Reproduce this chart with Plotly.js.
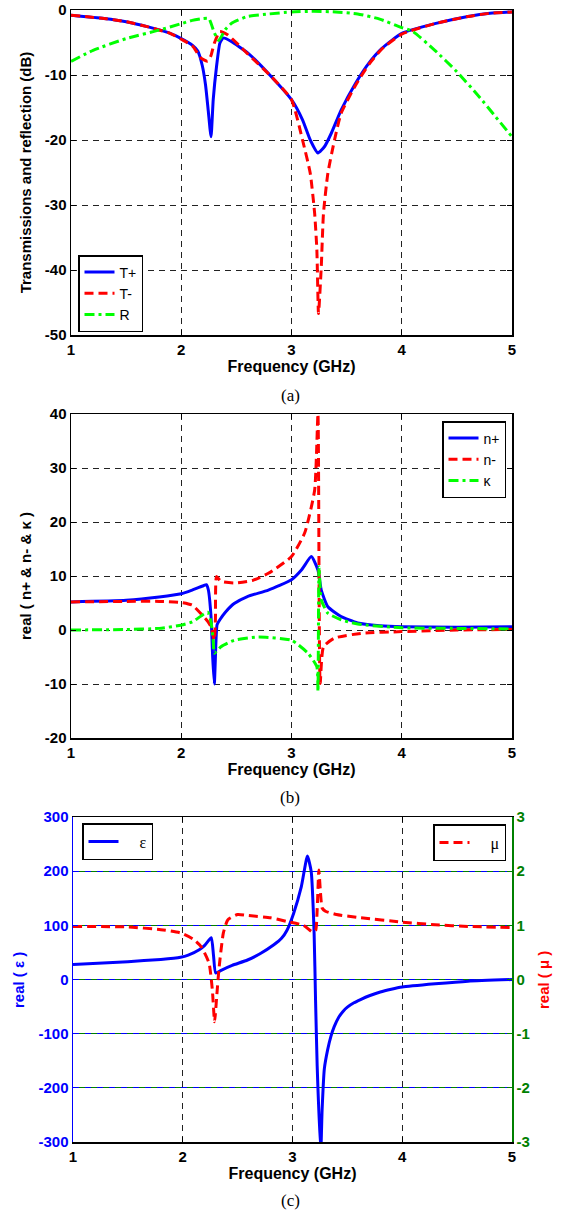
<!DOCTYPE html>
<html>
<head>
<meta charset="utf-8">
<script src="https://cdn.plot.ly/plotly-3.0.1.min.js"></script>
<style>html,body{margin:0;padding:0;background:#fff;}#chart{width:563px;height:1211px;}</style>
</head>
<body>
<div id="chart"></div>
<script>
// ---------- data ----------
const xTicks = [1, 2, 3, 4, 5];
const yTicksA = [0, -10, -20, -30, -40, -50];
const yTicksB = [40, 30, 20, 10, 0, -10, -20];
const yTicksEps = [300, 200, 100, 0, -100, -200, -300];
const yTicksMu = [3, 2, 1, 0, -1, -2, -3];

// (a) transmissions and reflection (dB)
const tPlusF = [1.0,1.3,1.5,1.7,1.9,2.0,2.1,2.15,2.19,2.22,2.245,2.27,2.29,2.32,2.35,2.38,2.45,2.61,2.82,3.0,3.1,3.17,3.24,3.3,3.36,3.45,3.58,3.7,3.82,4.0,4.3,4.6,4.8,5.0];
const tPlusDb = [-0.8,-1.3,-1.8,-2.6,-3.6,-4.4,-5.4,-6.3,-8.5,-11.5,-15.5,-19.5,-13.8,-8.7,-5.1,-4.3,-4.8,-6.7,-10.3,-13.8,-16.9,-20,-22,-21,-19,-15.4,-11.3,-8.2,-5.9,-3.6,-2.1,-1.0,-0.5,-0.3];
const tMinusF = [1.0,1.3,1.5,1.7,1.9,2.0,2.1,2.18,2.24,2.27,2.3,2.35,2.42,2.6,2.82,3.0,3.1,3.17,3.21,3.23,3.245,3.27,3.29,3.33,3.39,3.45,3.58,3.7,3.82,4.0,4.3,4.6,4.8,5.0];
const tMinusDb = [-0.8,-1.3,-1.8,-2.6,-3.6,-4.5,-5.5,-7.4,-7.9,-7.0,-5.1,-3.3,-3.8,-6.7,-10.3,-13.8,-20,-25.1,-31.3,-36.9,-46.7,-39.5,-31.3,-25.1,-20,-15.9,-11.6,-8.4,-6.0,-3.7,-2.1,-1.0,-0.5,-0.3];
const rF = [1.0,1.2,1.5,1.8,2.0,2.1,2.2,2.25,2.3,2.34,2.4,2.46,2.6,2.8,3.0,3.2,3.4,3.6,3.8,4.0,4.1,4.3,4.5,4.7,4.85,5.0];
const rDb = [-7.9,-6.2,-4.4,-3.1,-2.1,-1.6,-1.3,-1.3,-3.5,-4.7,-3.0,-2.0,-1.0,-0.6,-0.3,-0.2,-0.3,-0.6,-1.4,-2.7,-3.3,-6.2,-9.5,-13.3,-16.4,-19.5];

// (b) real(n+), real(n-), kappa
const nPlusF = [1.0,1.5,1.8,2.0,2.1,2.2,2.227,2.245,2.27,2.285,2.30,2.315,2.325,2.35,2.4,2.48,2.6,2.79,3.0,3.09,3.18,3.24,3.27,3.33,3.45,3.6,3.8,4.0,4.5,5.0];
const nPlus = [5.2,5.5,6.1,6.7,7.4,8.2,8.4,7.5,2.5,-5,-10,-2,1.0,1.9,3.3,4.9,6.2,7.4,9.3,11.1,13.6,11.1,7.4,4.3,2.5,1.3,0.8,0.6,0.5,0.6];
const nMinusF = [1.0,1.5,1.8,2.0,2.1,2.18,2.24,2.27,2.30,2.31,2.32,2.36,2.48,2.65,2.79,3.0,3.12,3.21,3.24,3.26,3.29,3.39,3.64,4.0,4.5,5.0];
const nMinus = [5.2,5.3,5.3,5.1,4.6,3.0,1.6,0.6,-1.9,2,9.9,9.0,8.7,9.2,10.5,13.6,18.0,25.9,40,-9.9,-3.1,-1.5,-0.6,-0.3,0.0,0.1];
const kappaF = [1.0,1.5,1.8,2.0,2.1,2.18,2.24,2.27,2.29,2.30,2.36,2.48,2.7,3.0,3.15,3.23,3.24,3.25,3.27,3.33,3.45,3.6,4.0,4.5,5.0];
const kappa = [0.0,0.1,0.3,0.9,1.5,2.6,3.3,1.5,-2.0,-4.3,-3.1,-1.9,-1.3,-1.9,-4.3,-6.8,-11.4,11.7,5.6,3.1,1.9,1.1,0.4,0.3,0.2];

// (c) real(epsilon), real(mu)
const epsF = [1.0,1.5,1.8,1.98,2.05,2.15,2.2,2.26,2.28,2.30,2.35,2.45,2.59,2.7,2.83,2.9,2.95,3.01,3.08,3.136,3.17,3.197,3.21,3.225,3.257,3.27,3.29,3.32,3.35,3.38,3.42,3.46,3.5,3.56,3.62,3.7,3.8,3.9,4.0,4.3,4.6,5.0];
const eps = [27.6,33,37,41,45,55,63,77,45,12,17,26,36,47,64,76,91,122,171,228,200,85,-38,-160,-320,-240,-165,-130,-105,-87,-70,-59,-51,-43,-37,-30,-23,-18,-14,-8,-3,0];
const muF = [1.0,1.5,1.8,1.98,2.1,2.17,2.24,2.27,2.29,2.31,2.33,2.37,2.41,2.5,2.6,2.8,2.95,3.1,3.18,3.21,3.225,3.24,3.255,3.27,3.3,3.4,3.62,4.0,4.3,4.6,5.0];
const mu = [0.98,0.97,0.92,0.86,0.74,0.6,0.30,-0.2,-0.78,-0.3,0.2,0.86,1.1,1.2,1.18,1.14,1.07,1.0,0.88,0.9,1.3,2.02,1.6,1.32,1.26,1.2,1.14,1.06,1.01,0.98,0.96];

// ---------- styles ----------
const SANS = 'Liberation Sans, Arial, sans-serif';
const SERIF = 'Liberation Serif, Times New Roman, serif';
const BLUE = '#0000ff', RED = '#ff0000', GREEN = '#00ff00', DKGREEN = '#008000';
const LW = 3;
const DASH_RED = '9px,5px';
const DASH_GREEN = '10px,4px,3px,4px';
const GRID_DASH = '6px,5px';

function line(color, dash) { return {color: color, width: LW, dash: dash || 'solid', shape: 'spline', smoothing: 0.5}; }

const traces = [
  {x: tPlusF, y: tPlusDb, name: 'T+', mode: 'lines', line: line(BLUE), xaxis: 'x', yaxis: 'y', legend: 'legend'},
  {x: tMinusF, y: tMinusDb, name: 'T-', mode: 'lines', line: line(RED, DASH_RED), xaxis: 'x', yaxis: 'y', legend: 'legend'},
  {x: rF, y: rDb, name: 'R', mode: 'lines', line: line(GREEN, DASH_GREEN), xaxis: 'x', yaxis: 'y', legend: 'legend'},
  {x: nPlusF, y: nPlus, name: 'n+', mode: 'lines', line: line(BLUE), xaxis: 'x2', yaxis: 'y2', legend: 'legend2'},
  {x: nMinusF, y: nMinus, name: 'n-', mode: 'lines', line: line(RED, DASH_RED), xaxis: 'x2', yaxis: 'y2', legend: 'legend2'},
  {x: kappaF, y: kappa, name: 'κ', mode: 'lines', line: line(GREEN, DASH_GREEN), xaxis: 'x2', yaxis: 'y2', legend: 'legend2'},
  {x: epsF, y: eps, name: '    ε', mode: 'lines', line: line(BLUE), xaxis: 'x3', yaxis: 'y3', legend: 'legend3'},
  {x: muF, y: mu, name: '    μ', mode: 'lines', line: line(RED, DASH_RED), xaxis: 'x3', yaxis: 'y4', legend: 'legend4'}
];

const tickFont = (c) => ({family: SANS, size: 15, weight: 'bold', color: c || '#000'});
const titleFont = (c, s) => ({family: SANS, size: s || 16, weight: 'bold', color: c || '#000'});

function xAxis(dom, anchor) {
  return {
    domain: dom, anchor: anchor, range: [1, 5], tickvals: xTicks, ticktext: xTicks.map(String),
    showgrid: true, gridcolor: '#222', griddash: GRID_DASH, gridwidth: 1, zeroline: false,
    showline: true, linecolor: '#000', linewidth: 1.5, mirror: 'ticks',
    ticks: 'inside', ticklen: 5, tickcolor: '#000', tickfont: tickFont(),
    title: {text: 'Frequency (GHz)', font: titleFont(), standoff: 4}
  };
}
function yAxis(dom, anchor, range, ticks, title, opts) {
  return Object.assign({
    domain: dom, anchor: anchor, range: range, tickvals: ticks, ticktext: ticks.map(String),
    showgrid: true, gridcolor: '#222', griddash: GRID_DASH, gridwidth: 1, zeroline: false,
    showline: true, linecolor: '#000', linewidth: 1.5, mirror: 'ticks',
    ticks: 'inside', ticklen: 5, tickcolor: '#000', tickfont: tickFont(),
    title: {text: title, font: titleFont(null, 15)}
  }, opts || {});
}

const xdomAB = [71/563, 512/563];
const xdomC = [73/563, 512/563];
const ydomA = [1 - 335/1211, 1 - 10/1211];
const ydomB = [1 - 738/1211, 1 - 414/1211];
const ydomC = [1 - 1142/1211, 1 - 817/1211];

const legendBase = {bgcolor: '#fff', bordercolor: '#000', borderwidth: 1.5,
  font: {family: SANS, size: 14, color: '#000'}, itemclick: false, itemdoubleclick: false};

const layout = {
  width: 563, height: 1211,
  margin: {l: 0, r: 0, t: 0, b: 0},
  paper_bgcolor: '#fff', plot_bgcolor: '#fff',
  showlegend: true,
  xaxis: xAxis(xdomAB, 'y'),
  yaxis: yAxis(ydomA, 'x', [-50, 0], yTicksA, 'Transmissions and reflection (dB)'),
  xaxis2: xAxis(xdomAB, 'y2'),
  yaxis2: yAxis(ydomB, 'x2', [-20, 40], yTicksB, 'real ( n+ & n- & κ )'),
  xaxis3: xAxis(xdomC, 'y3'),
  yaxis3: yAxis(ydomC, 'x3', [-300, 300], yTicksEps, '', {
    linecolor: BLUE, mirror: false, tickcolor: BLUE, tickfont: tickFont(BLUE),
    gridcolor: BLUE, griddash: '6px,6px'
  }),
  yaxis4: yAxis(ydomC, 'x3', [-3, 3], yTicksMu, '', {
    overlaying: 'y3', side: 'right', linecolor: DKGREEN, mirror: false, tickcolor: DKGREEN,
    tickfont: tickFont(DKGREEN), gridcolor: DKGREEN, griddash: '0px,6px,6px,0px'
  }),
  legend: Object.assign({}, legendBase, {x: 78/563, y: 1 - 255/1211, xanchor: 'left', yanchor: 'top'}),
  legend2: Object.assign({}, legendBase, {x: 506/563, y: 1 - 421/1211, xanchor: 'right', yanchor: 'top'}),
  legend3: Object.assign({}, legendBase, {x: 82/563, y: 1 - 823/1211, xanchor: 'left', yanchor: 'top',
    font: {family: SERIF, size: 16, color: '#000'}}),
  legend4: Object.assign({}, legendBase, {x: 506/563, y: 1 - 824/1211, xanchor: 'right', yanchor: 'top',
    font: {family: SERIF, size: 16, color: '#000'}}),
  annotations: [
    {text: 'real ( ε )', xref: 'paper', yref: 'paper', x: 18/563, y: 1 - 980/1211, showarrow: false,
     textangle: -90, xanchor: 'center', yanchor: 'middle', font: titleFont(BLUE, 15)},
    {text: 'real ( μ )', xref: 'paper', yref: 'paper', x: 543/563, y: 1 - 980/1211, showarrow: false,
     textangle: -90, xanchor: 'center', yanchor: 'middle', font: titleFont(RED, 15)},
    {text: '(a)', xref: 'paper', yref: 'paper', x: 290/563, y: 1 - 395/1211, showarrow: false,
     xanchor: 'center', yanchor: 'middle', font: {family: SERIF, size: 17, color: '#000'}},
    {text: '(b)', xref: 'paper', yref: 'paper', x: 290/563, y: 1 - 797/1211, showarrow: false,
     xanchor: 'center', yanchor: 'middle', font: {family: SERIF, size: 17, color: '#000'}},
    {text: '(c)', xref: 'paper', yref: 'paper', x: 290/563, y: 1 - 1200/1211, showarrow: false,
     xanchor: 'center', yanchor: 'middle', font: {family: SERIF, size: 17, color: '#000'}}
  ]
};

Plotly.newPlot('chart', traces, layout, {staticPlot: true, displayModeBar: false});
</script>
</body>
</html>
